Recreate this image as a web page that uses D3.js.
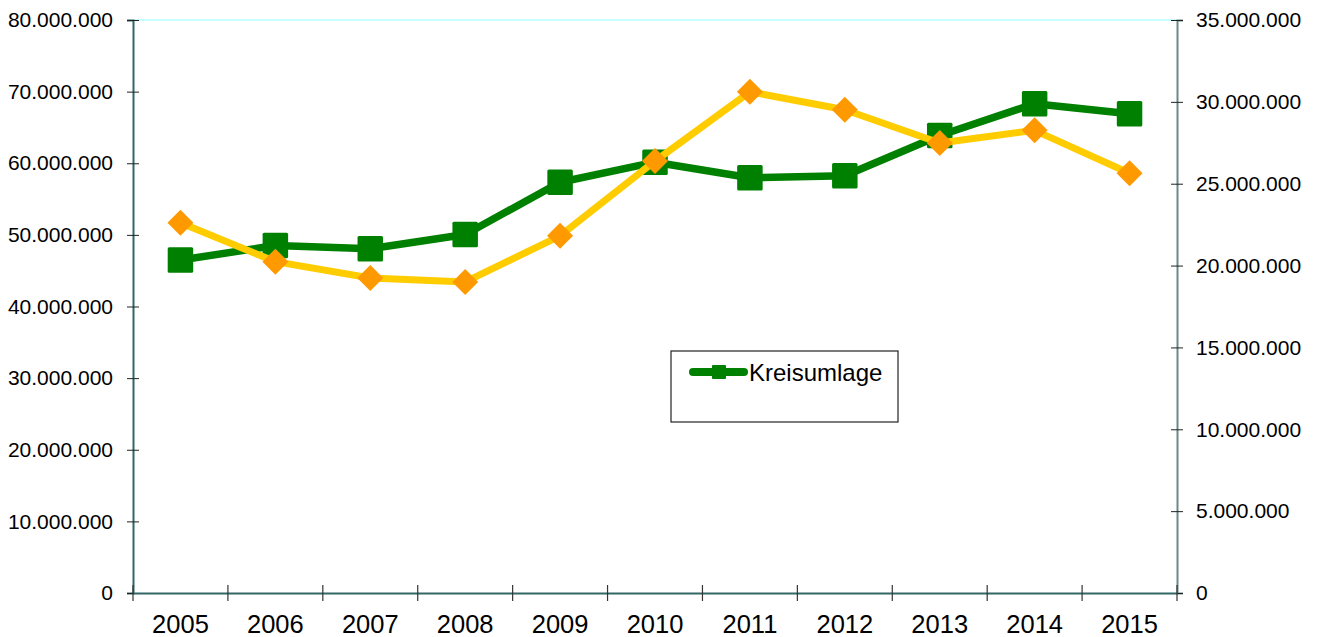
<!DOCTYPE html>
<html>
<head>
<meta charset="utf-8">
<script src="https://cdn.jsdelivr.net/npm/d3@7"></script>
<style>
  html, body { margin: 0; padding: 0; background: #fff; }
  svg { display: block; font-family: "Liberation Sans", Arial, sans-serif; }
</style>
</head>
<body>
<svg id="chart" width="1319" height="637"></svg>
<script>
// ---- data ----
const years = ["2005","2006","2007","2008","2009","2010","2011","2012","2013","2014","2015"];
const kreisumlage = [46490000, 48520000, 48060000, 50050000, 57350000, 60150000, 57970000, 58250000, 63870000, 68310000, 66900000];
const secondSeries = [22610000, 20240000, 19240000, 19000000, 21820000, 26380000, 30610000, 29520000, 27490000, 28260000, 25640000];
const leftTicks = [0, 10000000, 20000000, 30000000, 40000000, 50000000, 60000000, 70000000, 80000000];
const rightTicks = [0, 5000000, 10000000, 15000000, 20000000, 25000000, 30000000, 35000000];
const legendLabel = "Kreisumlage";

// ---- layout ----
const L = 133, R = 1177, T = 20, B = 593;
const svg = d3.select("#chart");

const de = d3.formatLocale({decimal: ",", thousands: ".", grouping: [3], currency: ["", " €"]});
const fmt = de.format(",.0f");

const x = d3.scaleBand().domain(years).range([L, R]).padding(0);
const cx = d => x(d) + x.bandwidth() / 2;
const yL = d3.scaleLinear().domain([0, 80000000]).range([B, T]);
const yR = d3.scaleLinear().domain([0, 35000000]).range([B, T]);

// top border
svg.append("line").attr("x1", L).attr("x2", R).attr("y1", T).attr("y2", T)
  .attr("stroke", "#c8ffff").attr("stroke-width", 2);

// left axis
const gL = svg.append("g").attr("transform", `translate(${L},0)`)
  .call(d3.axisLeft(yL).tickValues(leftTicks).tickFormat(fmt).tickSize(6).tickPadding(14));
gL.select(".domain").attr("stroke", "#336666").attr("stroke-width", 2);
gL.selectAll(".tick line").attr("x1", 6).attr("x2", -6).attr("stroke", "#222");
gL.selectAll(".tick text").attr("font-size", "21px").attr("fill", "#000")
  .attr("font-family", "Liberation Sans, Arial, sans-serif");

// right axis
const gR = svg.append("g").attr("transform", `translate(${R},0)`)
  .call(d3.axisRight(yR).tickValues(rightTicks).tickFormat(fmt).tickSize(6).tickPadding(13));
gR.select(".domain").attr("stroke", "#6a8888").attr("stroke-width", 2);
gR.selectAll(".tick line").attr("x1", -6).attr("x2", 6).attr("stroke", "#222");
gR.selectAll(".tick text").attr("font-size", "21px").attr("fill", "#000")
  .attr("font-family", "Liberation Sans, Arial, sans-serif");

// bottom axis
const gB = svg.append("g").attr("transform", `translate(0,${B})`)
  .call(d3.axisBottom(x).tickSize(0).tickPadding(22));
gB.select(".domain").attr("stroke", "#336666").attr("stroke-width", 2);
gB.selectAll(".tick text").attr("font-size", "25.5px").attr("fill", "#000")
  .attr("font-family", "Liberation Sans, Arial, sans-serif");
const bounds = years.map(d => x(d)).concat([x(years[years.length - 1]) + x.bandwidth()]);
gB.selectAll(".btick").data(bounds).enter().append("line").attr("class", "btick")
  .attr("x1", d => d).attr("x2", d => d).attr("y1", -8).attr("y2", 8)
  .attr("stroke", "#333").attr("stroke-width", 1.2);

// green series (left axis)
const lineL = d3.line().x((d, i) => cx(years[i])).y(d => yL(d));
svg.append("path").datum(kreisumlage).attr("d", lineL)
  .attr("fill", "none").attr("stroke", "#008000").attr("stroke-width", 7.5)
  .attr("stroke-linejoin", "round");
const sq = 25.5;
svg.selectAll(".sq").data(kreisumlage).enter().append("rect").attr("class", "sq")
  .attr("x", (d, i) => cx(years[i]) - sq / 2).attr("y", d => yL(d) - sq / 2)
  .attr("width", sq).attr("height", sq).attr("rx", 1.5)
  .attr("fill", "#008000");

// yellow/orange series (right axis)
const lineR = d3.line().x((d, i) => cx(years[i])).y(d => yR(d));
svg.append("path").datum(secondSeries).attr("d", lineR)
  .attr("fill", "none").attr("stroke", "#ffcc00").attr("stroke-width", 7)
  .attr("stroke-linejoin", "round");
const dm = 13;
svg.selectAll(".dm").data(secondSeries).enter().append("path").attr("class", "dm")
  .attr("d", (d, i) => {
    const px = cx(years[i]), py = yR(d);
    return `M${px},${py - dm}L${px + dm},${py}L${px},${py + dm}L${px - dm},${py}Z`;
  })
  .attr("fill", "#ff9900");

// legend
const lg = svg.append("g");
lg.append("rect").attr("x", 671).attr("y", 351).attr("width", 227).attr("height", 71)
  .attr("fill", "#fff").attr("stroke", "#222").attr("stroke-width", 1.2);
lg.append("line").attr("x1", 693).attr("x2", 744).attr("y1", 372).attr("y2", 372)
  .attr("stroke", "#008000").attr("stroke-width", 8).attr("stroke-linecap", "round");
lg.append("rect").attr("x", 712).attr("y", 365).attr("width", 14).attr("height", 14)
  .attr("rx", 1).attr("fill", "#008000");
lg.append("text").attr("x", 749).attr("y", 381).text(legendLabel)
  .attr("font-size", "24px").attr("fill", "#000");
</script>
</body>
</html>
